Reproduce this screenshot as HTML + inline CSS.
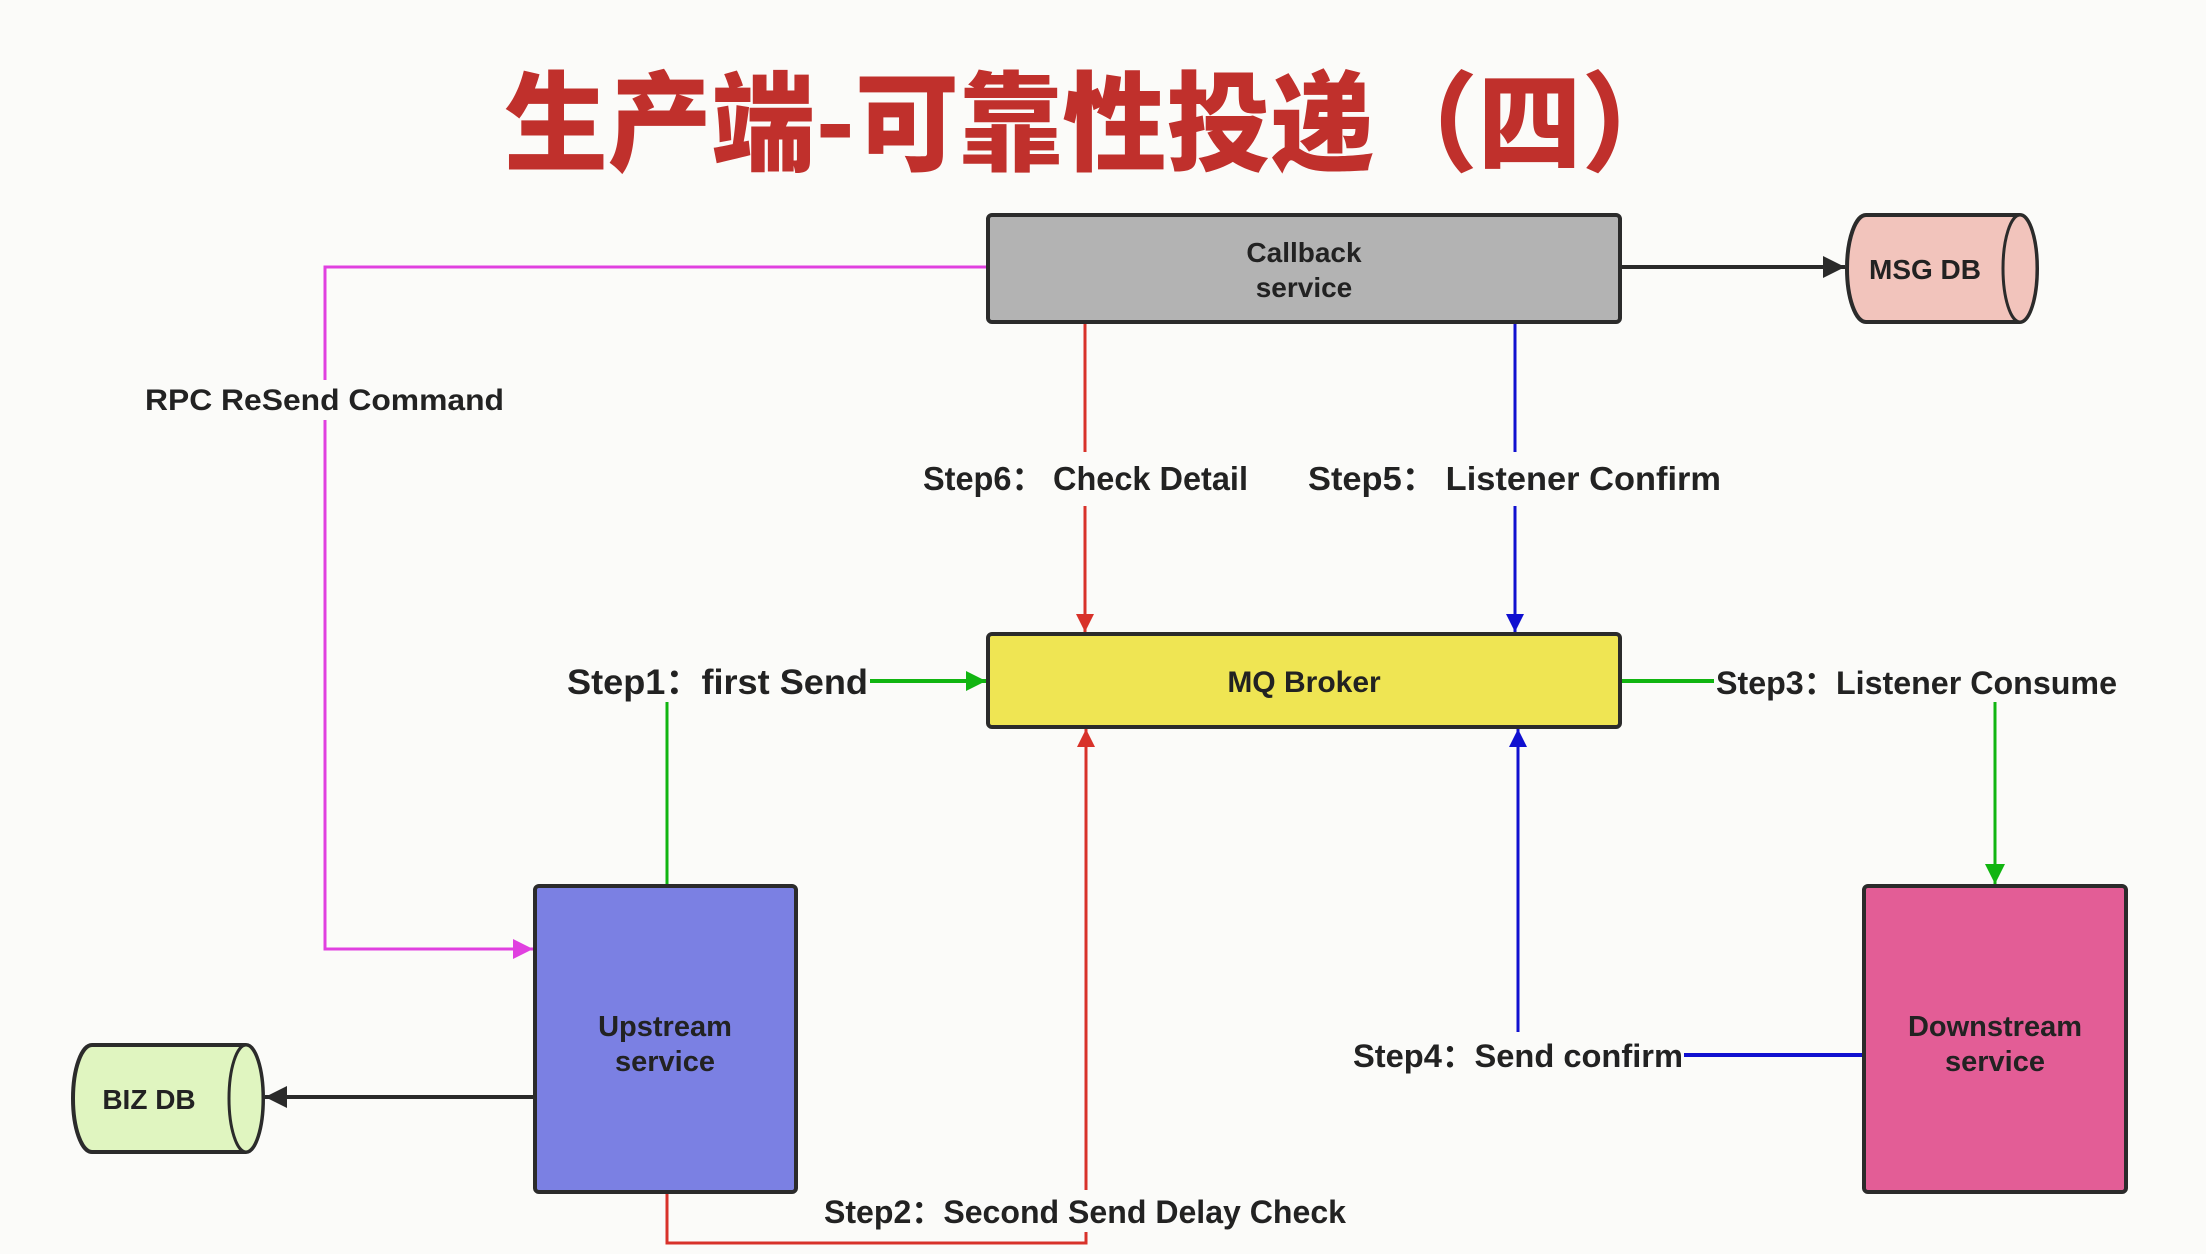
<!DOCTYPE html>
<html><head><meta charset="utf-8"><style>
html,body{margin:0;padding:0;background:#fbfbf9;}
svg{display:block;}
text{font-family:"Liberation Sans","Noto Sans CJK SC",sans-serif;font-weight:bold;fill:#222;}
</style></head><body>
<svg width="2206" height="1254" viewBox="0 0 2206 1254" xmlns="http://www.w3.org/2000/svg">
<defs>
<marker id="ar" viewBox="0 0 10 10" markerWidth="18" markerHeight="22" refX="10" refY="5" orient="auto" markerUnits="userSpaceOnUse"><path d="M0,0 L10,5 L0,10z" fill="#d8322a"/></marker>
<marker id="ab" viewBox="0 0 10 10" markerWidth="18" markerHeight="22" refX="10" refY="5" orient="auto" markerUnits="userSpaceOnUse"><path d="M0,0 L10,5 L0,10z" fill="#1010d0"/></marker>
<marker id="agr" viewBox="0 0 10 10" markerWidth="20" markerHeight="22" refX="10" refY="5" orient="auto" markerUnits="userSpaceOnUse"><path d="M0,0 L10,5 L0,10z" fill="#11b511"/></marker>
<marker id="am" viewBox="0 0 10 10" markerWidth="22" markerHeight="20" refX="10" refY="5" orient="auto" markerUnits="userSpaceOnUse"><path d="M0,0 L10,5 L0,10z" fill="#e040e0"/></marker>
<marker id="ak" viewBox="0 0 10 10" markerWidth="24" markerHeight="22" refX="10" refY="5" orient="auto" markerUnits="userSpaceOnUse"><path d="M0,0 L10,5 L0,10z" fill="#2a2a2a"/></marker>
</defs>

<g transform="translate(504,0) scale(1.038,1.08) translate(-504,0)">
<text x="504" y="150" font-size="100" style="fill:#c0302c;font-family:'Noto Sans CJK SC',sans-serif;font-weight:900">生产端-可靠性投递（四）</text>
</g>

<!-- connectors -->
<polyline points="988,267 325,267 325,949 533,949" fill="none" stroke="#e040e0" stroke-width="3" marker-end="url(#am)"/>
<line x1="1620" y1="267" x2="1845" y2="267" stroke="#2a2a2a" stroke-width="4" marker-end="url(#ak)"/>
<line x1="1085" y1="322" x2="1085" y2="632" stroke="#d8322a" stroke-width="3" marker-end="url(#ar)"/>
<line x1="1515" y1="322" x2="1515" y2="632" stroke="#1010d0" stroke-width="3" marker-end="url(#ab)"/>
<line x1="667" y1="886" x2="667" y2="702" stroke="#11b511" stroke-width="3"/>
<line x1="868" y1="681" x2="986" y2="681" stroke="#11b511" stroke-width="4" marker-end="url(#agr)"/>
<line x1="1620" y1="681" x2="1716" y2="681" stroke="#11b511" stroke-width="4"/>
<line x1="1995" y1="702" x2="1995" y2="884" stroke="#11b511" stroke-width="3" marker-end="url(#agr)"/>
<polyline points="667,1192 667,1243 1086,1243 1086,729" fill="none" stroke="#d8322a" stroke-width="3" marker-end="url(#ar)"/>
<line x1="1864" y1="1055" x2="1683" y2="1055" stroke="#1010d0" stroke-width="4"/>
<line x1="1518" y1="1034" x2="1518" y2="729" stroke="#1010d0" stroke-width="3" marker-end="url(#ab)"/>
<line x1="535" y1="1097" x2="265" y2="1097" stroke="#2a2a2a" stroke-width="4" marker-end="url(#ak)"/>

<!-- boxes -->
<rect x="988" y="215" width="632" height="107" rx="4" fill="#b3b3b3" stroke="#2b2b2b" stroke-width="4"/>
<text x="1304" y="262" text-anchor="middle" font-size="28">Callback</text>
<text x="1304" y="297" text-anchor="middle" font-size="28">service</text>

<rect x="988" y="634" width="632" height="93" rx="4" fill="#efe553" stroke="#2b2b2b" stroke-width="4"/>
<text x="1304" y="692" text-anchor="middle" font-size="30">MQ Broker</text>

<rect x="535" y="886" width="261" height="306" rx="4" fill="#7b80e3" stroke="#2b2b2b" stroke-width="4"/>
<text x="665" y="1036" text-anchor="middle" font-size="29">Upstream</text>
<text x="665" y="1071" text-anchor="middle" font-size="29">service</text>

<rect x="1864" y="886" width="262" height="306" rx="4" fill="#e35d96" stroke="#2b2b2b" stroke-width="4"/>
<text x="1995" y="1036" text-anchor="middle" font-size="29">Downstream</text>
<text x="1995" y="1071" text-anchor="middle" font-size="29">service</text>

<!-- MSG DB -->
<path d="M1866,215 H2020 A17,53.5 0 0 1 2020,322 H1866 A19,53.5 0 0 1 1866,215 z" fill="#f2c4bc" stroke="#2b2b2b" stroke-width="4"/>
<ellipse cx="2020" cy="268.5" rx="17" ry="53.5" fill="#f2c4bc" stroke="#2b2b2b" stroke-width="3"/>
<text x="1925" y="279" text-anchor="middle" font-size="28">MSG DB</text>

<!-- BIZ DB -->
<path d="M92,1045 H246 A17,53.5 0 0 1 246,1152 H92 A19,53.5 0 0 1 92,1045 z" fill="#e0f5c0" stroke="#2b2b2b" stroke-width="4"/>
<ellipse cx="246" cy="1098.5" rx="17" ry="53.5" fill="#e0f5c0" stroke="#2b2b2b" stroke-width="3"/>
<text x="149" y="1109" text-anchor="middle" font-size="28">BIZ DB</text>

<!-- label backgrounds -->
<g fill="#fbfbf9">
<rect x="143" y="380" width="363" height="40"/>
<rect x="918" y="452" width="335" height="54"/>
<rect x="1303" y="452" width="423" height="54"/>
<rect x="562" y="656" width="308" height="46"/>
<rect x="1714" y="658" width="406" height="44"/>
<rect x="1350" y="1032" width="334" height="44"/>
<rect x="820" y="1190" width="530" height="42"/>
</g>

<!-- labels -->
<text x="145" y="410" font-size="30" textLength="359" lengthAdjust="spacingAndGlyphs">RPC ReSend Command</text>
<text x="923" y="490" font-size="33" textLength="325" lengthAdjust="spacingAndGlyphs">Step6：  Check Detail</text>
<text x="1308" y="490" font-size="33" textLength="413" lengthAdjust="spacingAndGlyphs">Step5：  Listener Confirm</text>
<text x="567" y="694" font-size="35" textLength="301" lengthAdjust="spacingAndGlyphs">Step1：first Send</text>
<text x="1716" y="694" font-size="32" textLength="401" lengthAdjust="spacingAndGlyphs">Step3：Listener Consume</text>
<text x="1353" y="1067" font-size="32" textLength="330" lengthAdjust="spacingAndGlyphs">Step4：Send confirm</text>
<text x="824" y="1223" font-size="32" textLength="522" lengthAdjust="spacingAndGlyphs">Step2：Second Send Delay Check</text>
</svg>
</body></html>
